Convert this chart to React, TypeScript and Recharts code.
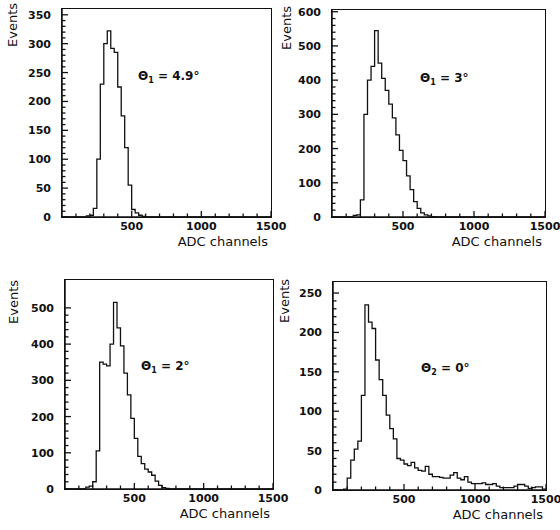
import React from 'react';
import { LineChart, Line, XAxis, YAxis } from 'recharts';

// ADC spectra, 25-channel bins from 0 to 1500
const binWidth = 25;
const xMax = 1500;
const xMajorTicks = [500, 1000, 1500];
const xMinorStep = 100;

const counts49 = [
  0, 0, 0, 0, 0, 0, 0, 2, 3, 15, 100, 230, 300, 322, 292, 285, 225, 175, 120, 55,
  13, 7, 3, 1, 0, 0, 0, 0, 0, 0, 0, 0, 0, 0, 0, 0, 0, 0, 0, 0,
  0, 0, 0, 0, 0, 0, 0, 0, 0, 0, 0, 0, 0, 0, 0, 0, 0, 0, 0, 0,
];
const counts3 = [
  0, 0, 0, 0, 0, 0, 5, 6, 50, 300, 400, 440, 545, 450, 405, 370, 330, 290, 240, 195,
  165, 120, 80, 45, 25, 12, 6, 3, 1, 0, 0, 0, 0, 0, 0, 0, 0, 0, 0, 0,
  0, 0, 0, 0, 0, 0, 0, 0, 0, 0, 0, 0, 0, 0, 0, 0, 0, 0, 0, 0,
];
const counts2 = [
  0, 0, 0, 0, 0, 0, 5, 8, 20, 105, 350, 345, 340, 400, 515, 445, 395, 320, 260, 195,
  140, 90, 70, 55, 47, 38, 22, 10, 4, 2, 0, 0, 0, 0, 0, 0, 0, 0, 0, 0,
  0, 0, 0, 0, 0, 0, 0, 0, 0, 0, 0, 0, 0, 0, 0, 0, 0, 0, 0, 0,
];
const counts0 = [
  0, 0, 0, 1, 15, 38, 52, 62, 120, 235, 213, 205, 165, 140, 120, 95, 78, 65, 40, 38,
  33, 31, 35, 28, 25, 24, 30, 20, 17, 17, 16, 15, 15, 19, 22, 15, 13, 17, 10, 8,
  8, 8, 9, 7, 7, 8, 5, 3, 3, 3, 3, 5, 7, 7, 5, 2, 3, 4, 4, 1,
];

const y49Ticks = [0, 50, 100, 150, 200, 250, 300, 350];
const y3Ticks = [0, 100, 200, 300, 400, 500, 600];
const y2Ticks = [0, 100, 200, 300, 400, 500];
const y0Ticks = [0, 50, 100, 150, 200, 250];

const ink = '#111';
const font = '"DejaVu Sans", sans-serif';

const toSteps = (counts: number[]) => {
  const pts = counts.map((c, i) => ({ x: i * binWidth, y: c }));
  pts.push({ x: xMax, y: counts[counts.length - 1] });
  return pts;
};

const range = (max: number, step: number) => {
  const out: number[] = [];
  for (let v = 0; v <= max + 1e-9; v += step) out.push(v);
  return out;
};

type PanelProps = {
  counts: number[];
  yMax: number;
  yTicks: number[];
  yMinorStep: number;
  note: string;
  sub: string;
  left: number;
  top: number;
  width: number;
  height: number;
  noteX: number;
  noteY: number;
  eventsX: number;
  eventsY: number;
};

const PAD_L = 60;
const PAD_T = 10;
const PAD_R = 20;
const AXIS_H = 30;

function Panel(p: PanelProps) {
  const data = toSteps(p.counts);
  const xTicks = range(xMax, xMinorStep).filter((v) => v > 0);
  const yTicksAll = range(p.yTicks[p.yTicks.length - 1], p.yMinorStep);

  const XTick = (props: any) => {
    const { x, y, payload } = props;
    const major = xMajorTicks.includes(payload.value);
    return (
      <g>
        <line x1={x} y1={y} x2={x} y2={y - (major ? 6 : 3.5)} stroke={ink} strokeWidth={1.3} />
        {major && (
          <text x={x} y={y + 13} textAnchor="middle" fontSize={11} fontWeight="bold" fontFamily={font} fill={ink}>
            {payload.value}
          </text>
        )}
      </g>
    );
  };

  const YTick = (props: any) => {
    const { x, y, payload } = props;
    const major = p.yTicks.includes(payload.value);
    return (
      <g>
        <line x1={x} y1={y} x2={x + (major ? 6 : 3.5)} y2={y} stroke={ink} strokeWidth={1.3} />
        {major && (
          <text x={x - 11} y={y + 4} textAnchor="end" fontSize={11} fontWeight="bold" fontFamily={font} fill={ink}>
            {payload.value}
          </text>
        )}
      </g>
    );
  };

  return (
    <>
      <div style={{ position: 'absolute', left: p.left - PAD_L, top: p.top - PAD_T }}>
        <LineChart
          width={p.width + PAD_L + PAD_R}
          height={p.height + PAD_T + AXIS_H}
          data={data}
          margin={{ top: PAD_T, right: PAD_R, bottom: 0, left: 0 }}
        >
          <XAxis
            dataKey="x"
            type="number"
            domain={[0, xMax]}
            ticks={xTicks}
            interval={0}
            height={AXIS_H}
            tickSize={0}
            tickMargin={0}
            tickLine={false}
            tick={XTick}
            axisLine={{ stroke: ink, strokeWidth: 1.5 }}
          />
          <YAxis
            type="number"
            domain={[0, p.yMax]}
            ticks={yTicksAll}
            interval={0}
            width={PAD_L}
            tickSize={0}
            tickMargin={0}
            tickLine={false}
            tick={YTick}
            allowDataOverflow
            axisLine={{ stroke: ink, strokeWidth: 1.5 }}
          />
          <Line
            type="stepAfter"
            dataKey="y"
            stroke={ink}
            strokeWidth={1.3}
            dot={false}
            isAnimationActive={false}
          />
        </LineChart>
      </div>
      {/* frame around the plot area */}
      <div
        style={{
          position: 'absolute',
          left: p.left - 0.75,
          top: p.top - 0.75,
          width: p.width + 1.5,
          height: p.height + 1.5,
          boxSizing: 'border-box',
          border: `1.5px solid ${ink}`,
          pointerEvents: 'none',
        }}
      />
      <div
        style={{
          position: 'absolute',
          left: p.eventsX,
          top: p.eventsY,
          transform: 'translate(-50%, -50%) rotate(-90deg)',
          fontFamily: font,
          fontSize: 13,
          color: ink,
          whiteSpace: 'nowrap',
        }}
      >
        Events
      </div>
      <div
        style={{
          position: 'absolute',
          left: p.noteX,
          top: p.noteY,
          transform: 'translateY(-50%)',
          fontFamily: font,
          fontSize: 12,
          fontWeight: 'bold',
          color: ink,
          whiteSpace: 'nowrap',
        }}
      >
        {'Θ'}
        <span style={{ fontSize: 8, verticalAlign: -3 }}>{p.sub}</span>
        {' = ' + p.note}
      </div>
      <div
        style={{
          position: 'absolute',
          left: p.left + p.width - 3,
          top: p.top + p.height + 24,
          transform: 'translate(-100%, -50%)',
          fontFamily: font,
          fontSize: 13,
          color: ink,
          whiteSpace: 'nowrap',
        }}
      >
        ADC channels
      </div>
    </>
  );
}

export default function App() {
  return (
    <div style={{ position: 'absolute', left: 0, top: 0, width: 560, height: 530, background: '#fff' }}>
      <Panel counts={counts49} yMax={360} yTicks={y49Ticks} yMinorStep={10} note="4.9°" sub="1"
        left={62} top={9} width={209} height={208} noteX={138} noteY={77} eventsX={12} eventsY={25} />
      <Panel counts={counts3} yMax={605} yTicks={y3Ticks} yMinorStep={20} note="3°" sub="1"
        left={332} top={10} width={213} height={207} noteX={420} noteY={79} eventsX={286} eventsY={28} />
      <Panel counts={counts2} yMax={577} yTicks={y2Ticks} yMinorStep={20} note="2°" sub="1"
        left={65} top={280} width={208} height={209} noteX={141} noteY={367} eventsX={13} eventsY={302} />
      <Panel counts={counts0} yMax={264} yTicks={y0Ticks} yMinorStep={10} note="0°" sub="2"
        left={333} top={282} width={213} height={208} noteX={421} noteY={369} eventsX={284} eventsY={301} />
    </div>
  );
}
